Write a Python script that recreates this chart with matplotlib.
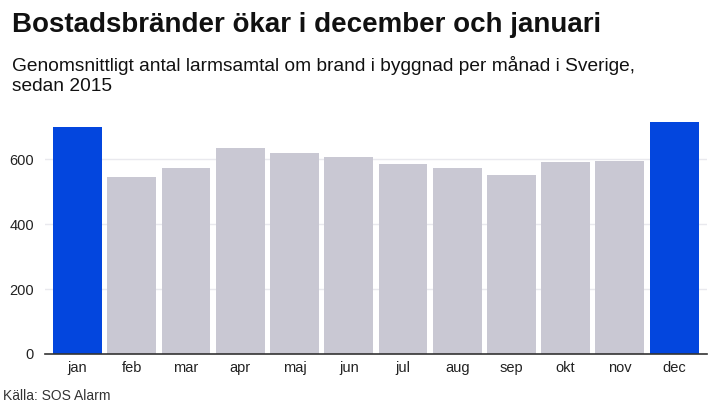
"""Bostadsbränder per månad — stapeldiagram."""

import matplotlib
matplotlib.use('Agg')
import matplotlib.pyplot as plt
import numpy as np

MONTHS = ['jan', 'feb', 'mar', 'apr', 'maj', 'jun',
          'jul', 'aug', 'sep', 'okt', 'nov', 'dec']
CALLS  = [701, 547, 572, 634, 620, 606, 587, 574, 551, 591, 595, 714]
HIGHLIGHT = ['jan', 'dec']

BLUE = '#0346de'
GREY = '#c9c8d3'

plt.rcParams['font.family'] = ['Liberation Sans', 'DejaVu Sans']

fig = plt.figure(figsize=(7.2, 4.05), dpi=100)
ax = fig.add_axes([0.0625, 0.126, 0.919, 0.5765])

x = np.arange(len(MONTHS))
colors = [BLUE if m in HIGHLIGHT else GREY for m in MONTHS]
ax.bar(x, CALLS, 0.9, color=colors, zorder=2)

ax.set_xlim(-0.6, 11.6)
ax.set_ylim(0, 720)
ax.set_yticks([0, 200, 400, 600])
ax.set_xticks(x)
ax.set_xticklabels(MONTHS)
ax.tick_params(axis='both', length=0, labelsize=10.5, colors='#222222')
ax.tick_params(axis='y', pad=8)
ax.tick_params(axis='x', pad=5)

for v in [200, 400, 600]:
    ax.axhline(v, color='#e9e9ee', linewidth=1, zorder=1)

for s in ['top', 'right', 'left']:
    ax.spines[s].set_visible(False)
ax.spines['bottom'].set_color('#333333')
ax.spines['bottom'].set_linewidth(1.2)
ax.spines['bottom'].set_zorder(3)

fig.text(0.016, 0.92, 'Bostadsbränder ökar i december och januari',
         fontsize=20, fontweight='bold', color='#111111')
fig.text(0.016, 0.862, 'Genomsnittligt antal larmsamtal om brand i byggnad per månad i Sverige,\nsedan 2015',
         fontsize=13.8, color='#111111', linespacing=1.25, va='top')
fig.text(0.004, 0.012, 'Källa: SOS Alarm', fontsize=10, color='#333333')

fig.savefig('out.png', dpi=100)
